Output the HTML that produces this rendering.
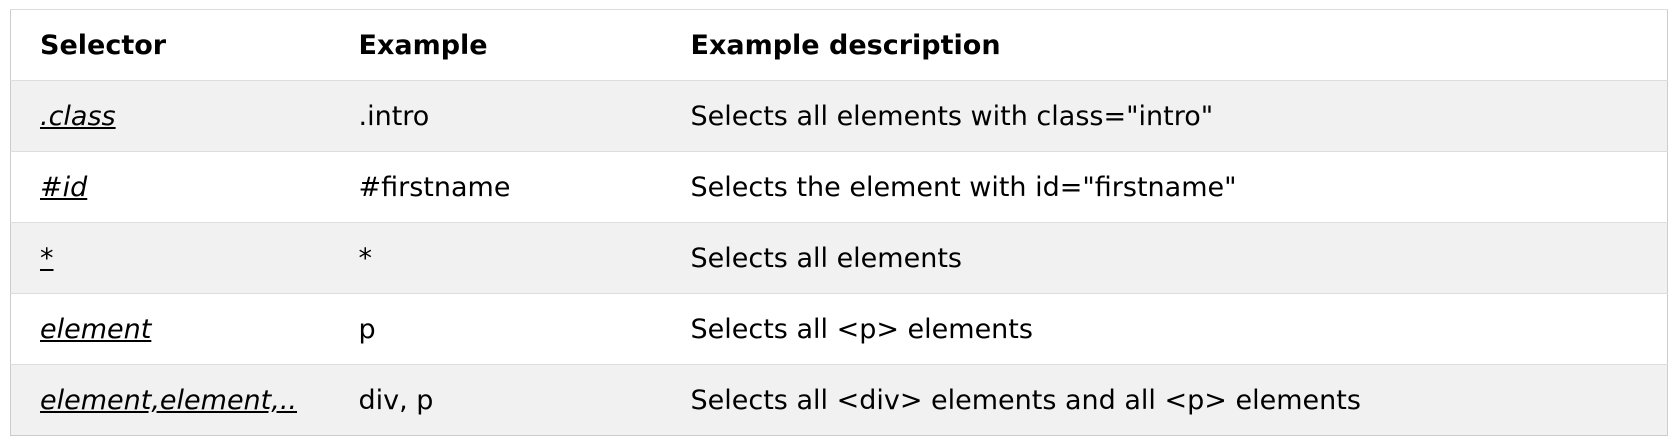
<!DOCTYPE html>
<html><head><meta charset="utf-8"><style>
html,body{margin:0;padding:0;background:#fff;width:1676px;height:446px;overflow:hidden}
table{position:absolute;left:10px;top:9px;width:1658px;border-collapse:collapse;border:1px solid #ccc;font-family:"DejaVu Sans","Liberation Sans",sans-serif;font-size:27px;color:#000;table-layout:fixed}
td,th{height:70px;padding:0 0 0 29px;text-align:left;vertical-align:middle;border-top:1px solid #ddd;white-space:nowrap}
th{font-weight:bold}
tr:nth-child(even){background:#f1f1f1}
td.s{font-style:italic;text-decoration:underline}
</style></head><body>
<table>
<colgroup><col style="width:319px"><col style="width:332px"><col></colgroup>
<tr><th>Selector</th><th>Example</th><th>Example description</th></tr>
<tr><td class="s">.class</td><td>.intro</td><td>Selects all elements with class="intro"</td></tr>
<tr><td class="s">#id</td><td>#firstname</td><td>Selects the element with id="firstname"</td></tr>
<tr><td class="s">*</td><td>*</td><td>Selects all elements</td></tr>
<tr><td class="s">element</td><td>p</td><td>Selects all &lt;p&gt; elements</td></tr>
<tr><td class="s">element,element,..</td><td>div, p</td><td>Selects all &lt;div&gt; elements and all &lt;p&gt; elements</td></tr>
</table>
</body></html>
